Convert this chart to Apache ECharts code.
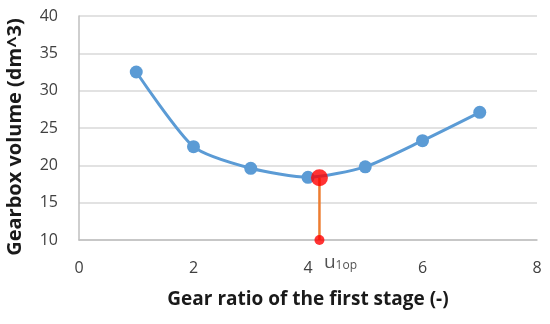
<!DOCTYPE html>
<html><head><meta charset="utf-8">
<script src="https://cdn.jsdelivr.net/npm/echarts@6/dist/echarts.min.js"></script>
<style>html,body{margin:0;padding:0;background:#fff}#c{width:550px;height:324px}</style>
</head><body><div id="c"></div>
<script>
const ratios = [1, 2, 3, 4, 5, 6, 7];
const volumes = [32.5, 22.5, 19.6, 18.4, 19.8, 23.3, 27.1];
const optimumRatio = 4.2;
const optimumVolume = 18.35;
const baseVolume = 10;
const xTicks = [0, 2, 4, 6, 8];
const yTicks = [10, 15, 20, 25, 30, 35, 40];

const font = '"Open Sans", Lato, sans-serif';
const chart = echarts.init(document.getElementById('c'));
chart.setOption({
  animation: false,
  grid: { left: 79, right: 13, top: 16, bottom: 84, outerBoundsMode: 'none', containLabel: false },
  xAxis: {
    type: 'value', min: xTicks[0], max: xTicks[xTicks.length - 1], interval: 2,
    name: 'Gear ratio of the first stage (-)', nameLocation: 'middle', nameGap: 50,
    nameTextStyle: { fontFamily: font, fontSize: 19, fontWeight: 'bold', color: '#1a1a1a' },
    axisLine: { lineStyle: { color: '#bfbfbf', width: 1.5 } },
    axisTick: { show: false },
    axisLabel: { fontFamily: font, fontSize: 16, color: '#404040', margin: 20 },
    splitLine: { show: false }
  },
  yAxis: {
    type: 'value', min: yTicks[0], max: yTicks[yTicks.length - 1], interval: 5,
    name: 'Gearbox volume (dm^3)', nameLocation: 'middle', nameGap: 54,
    nameTextStyle: { fontFamily: font, fontSize: 20, fontWeight: 'bold', color: '#1a1a1a', padding: [0, 18, 0, 0] },
    axisLine: { show: true, lineStyle: { color: '#bfbfbf', width: 1.5 } },
    axisTick: { show: false },
    axisLabel: { fontFamily: font, fontSize: 16, color: '#404040', margin: 21 },
    splitLine: { lineStyle: { color: '#d9d9d9', width: 1.5 } }
  },
  series: [
    {
      type: 'line', data: ratios.map((r, i) => [r, volumes[i]]),
      smooth: 0.22, symbol: 'circle', symbolSize: 13,
      lineStyle: { color: '#5b9bd5', width: 3 },
      itemStyle: { color: '#5b9bd5' }, z: 2
    },
    {
      type: 'line', data: [[optimumRatio, baseVolume], [optimumRatio, optimumVolume]],
      symbol: 'none', lineStyle: { color: '#ed7d31', width: 2.5 }, z: 3
    },
    {
      type: 'scatter', data: [[optimumRatio, optimumVolume]],
      symbolSize: 17, itemStyle: { color: '#ff0000' }, z: 4
    },
    {
      type: 'scatter', data: [[optimumRatio, baseVolume]],
      symbolSize: 10, itemStyle: { color: '#ff0000' }, z: 4,
      label: {
        show: true, position: 'bottom', offset: [21, 3],
        formatter: '{a|u}{b|1op}',
        rich: {
          a: { fontFamily: font, fontSize: 19, color: '#262626' },
          b: { fontFamily: font, fontSize: 12, color: '#262626', verticalAlign: 'bottom', padding: [6, 0, 0, 0] }
        }
      }
    }
  ]
});
</script></body></html>
